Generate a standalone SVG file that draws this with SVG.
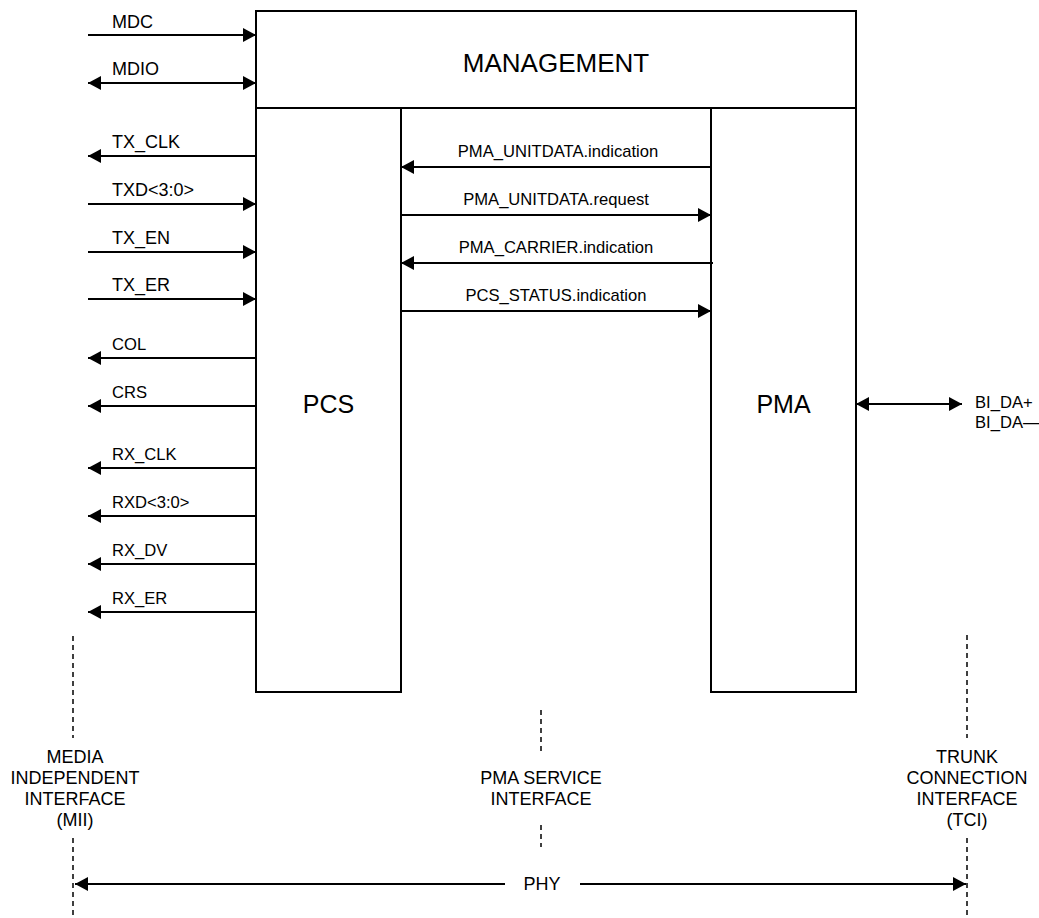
<svg xmlns="http://www.w3.org/2000/svg" width="1039" height="918" viewBox="0 0 1039 918">
<style>
text{font-family:"Liberation Sans",Arial,sans-serif;fill:#000}
.box{fill:#fff;stroke:#000;stroke-width:2}
.ln{stroke:#000;stroke-width:2;fill:none}
.dash{stroke:#000;stroke-width:1.5;stroke-dasharray:5 4;fill:none}
.big{font-size:26px;text-anchor:middle}
.mid{font-size:25px;text-anchor:middle}
.sig{font-size:18px}
.sig2{font-size:16.6px}
.svc{font-size:16.6px;text-anchor:middle}
.ifc{font-size:18px;text-anchor:middle}
</style>
<defs>
<marker id="ah" viewBox="0 0 13 14" refX="13" refY="7" markerWidth="13" markerHeight="14" markerUnits="userSpaceOnUse" orient="auto-start-reverse">
<path d="M0,0 L13,7 L0,14 z" fill="#000"/>
</marker>
</defs>
<g id="management"><rect class="box" x="256" y="11" width="600" height="97"/><text class="big" x="556" y="72">MANAGEMENT</text></g>
<g id="pcs"><rect class="box" x="256" y="108" width="145" height="584"/><text class="mid" x="328.5" y="413">PCS</text></g>
<g id="pma"><rect class="box" x="711" y="108" width="145" height="584"/><text class="mid" x="783.5" y="413">PMA</text></g>
<g id="connectors">
<line class="ln" x1="88" y1="35" x2="256" y2="35" marker-end="url(#ah)"/>
<line class="ln" x1="88" y1="83" x2="256" y2="83" marker-start="url(#ah)" marker-end="url(#ah)"/>
<line class="ln" x1="256" y1="156" x2="88" y2="156" marker-end="url(#ah)"/>
<line class="ln" x1="88" y1="204" x2="256" y2="204" marker-end="url(#ah)"/>
<line class="ln" x1="88" y1="252" x2="256" y2="252" marker-end="url(#ah)"/>
<line class="ln" x1="88" y1="299" x2="256" y2="299" marker-end="url(#ah)"/>
<line class="ln" x1="256" y1="358" x2="88" y2="358" marker-end="url(#ah)"/>
<line class="ln" x1="256" y1="406" x2="88" y2="406" marker-end="url(#ah)"/>
<line class="ln" x1="256" y1="468" x2="88" y2="468" marker-end="url(#ah)"/>
<line class="ln" x1="256" y1="516" x2="88" y2="516" marker-end="url(#ah)"/>
<line class="ln" x1="256" y1="564" x2="88" y2="564" marker-end="url(#ah)"/>
<line class="ln" x1="256" y1="612" x2="88" y2="612" marker-end="url(#ah)"/>
<line class="ln" x1="711" y1="167" x2="401" y2="167" marker-end="url(#ah)"/>
<line class="ln" x1="401" y1="215" x2="711" y2="215" marker-end="url(#ah)"/>
<line class="ln" x1="713" y1="263" x2="401" y2="263" marker-end="url(#ah)"/>
<line class="ln" x1="401" y1="311" x2="711" y2="311" marker-end="url(#ah)"/>
<line class="ln" x1="856" y1="404" x2="962" y2="404" marker-start="url(#ah)" marker-end="url(#ah)"/>
<line class="ln" x1="505" y1="884" x2="75" y2="884" marker-end="url(#ah)"/>
<line class="ln" x1="580" y1="884" x2="966" y2="884" marker-end="url(#ah)"/>
<line class="dash" x1="73" y1="636" x2="73" y2="738"/>
<line class="dash" x1="73" y1="838" x2="73" y2="918"/>
<line class="dash" x1="541" y1="710" x2="541" y2="751"/>
<line class="dash" x1="541" y1="825" x2="541" y2="847"/>
<line class="dash" x1="967" y1="635" x2="967" y2="738"/>
<line class="dash" x1="967" y1="838" x2="967" y2="918"/>
</g>
<g id="labels">
<text class="sig" x="112" y="28">MDC</text>
<text class="sig" x="112" y="75">MDIO</text>
<text class="sig" x="112" y="148">TX_CLK</text>
<text class="sig" x="112" y="196">TXD&lt;3:0&gt;</text>
<text class="sig" x="112" y="244">TX_EN</text>
<text class="sig" x="112" y="291">TX_ER</text>
<text class="sig2" x="112" y="350">COL</text>
<text class="sig2" x="112" y="398">CRS</text>
<text class="sig2" x="112" y="460">RX_CLK</text>
<text class="sig2" x="112" y="508">RXD&lt;3:0&gt;</text>
<text class="sig2" x="112" y="556">RX_DV</text>
<text class="sig2" x="112" y="604">RX_ER</text>
<text class="svc" x="558" y="157">PMA_UNITDATA.indication</text>
<text class="svc" x="556" y="205">PMA_UNITDATA.request</text>
<text class="svc" x="556" y="253">PMA_CARRIER.indication</text>
<text class="svc" x="556" y="301">PCS_STATUS.indication</text>
<text class="sig2" x="975" y="408">BI_DA+</text>
<text class="sig2" x="975" y="428">BI_DA—</text>
<text class="ifc" x="75" y="763">MEDIA</text>
<text class="ifc" x="75" y="784">INDEPENDENT</text>
<text class="ifc" x="75" y="805">INTERFACE</text>
<text class="ifc" x="75" y="826">(MII)</text>
<text class="ifc" x="541" y="784">PMA SERVICE</text>
<text class="ifc" x="541" y="805">INTERFACE</text>
<text class="ifc" x="967" y="763">TRUNK</text>
<text class="ifc" x="967" y="784">CONNECTION</text>
<text class="ifc" x="967" y="805">INTERFACE</text>
<text class="ifc" x="967" y="826">(TCI)</text>
<text class="ifc" x="542" y="890">PHY</text>
</g>
</svg>
